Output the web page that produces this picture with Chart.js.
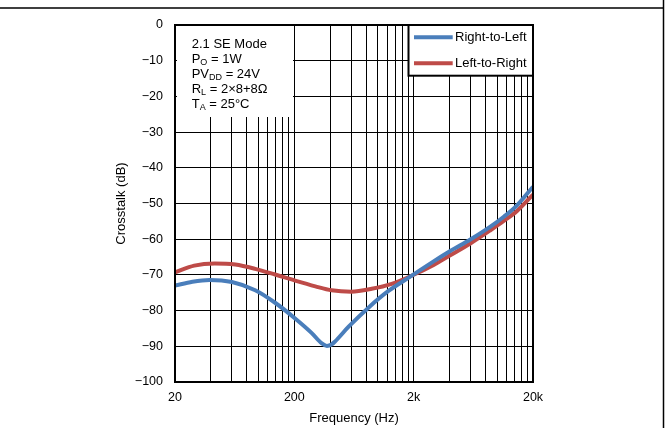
<!DOCTYPE html>
<html><head><meta charset="utf-8">
<script src="https://cdn.jsdelivr.net/npm/chart.js@4.4.1/dist/chart.umd.min.js"></script>
<style>html,body{margin:0;padding:0;background:#fff}canvas{display:block}</style>
</head><body>
<canvas id="c" width="669" height="428"></canvas>
<script>
// ---- data ----
const seriesNames = ['Right-to-Left', 'Left-to-Right'];
const freqRL = [20, 28, 39, 60, 94, 138, 203, 280, 340, 375, 410, 440, 570, 840, 1230, 1870, 2940, 4050, 5970, 8790, 11380, 14700, 20000];
const dbRL   = [-73.0, -71.9, -71.4, -72.0, -74.3, -77.8, -82.2, -86.3, -89.2, -89.9, -89.5, -88.6, -84.5, -79.1, -74.5, -70.5, -66.2, -63.3, -60.1, -56.5, -53.7, -50.5, -45.3];
const freqLR = [20, 29, 43, 64, 94, 138, 203, 300, 410, 600, 890, 1310, 1900, 2940, 4050, 5970, 8790, 11380, 14700, 20000];
const dbLR   = [-69.3, -67.4, -66.8, -67.1, -68.3, -69.9, -71.6, -73.2, -74.3, -74.7, -73.9, -72.5, -70.3, -67.2, -64.5, -61.2, -57.5, -54.9, -52.1, -47.5];
const xGridValues = [20, 40, 60, 80, 100, 120, 140, 160, 180, 200, 400, 600, 800, 1000, 1200, 1400, 1600, 1800, 2000, 4000, 6000, 8000, 10000, 12000, 14000, 16000, 18000, 20000];
const xLabelValues = [20, 200, 2000, 20000];
const xLabelText = ['20', '200', '2k', '20k'];
const yTickValues = [-100, -90, -80, -70, -60, -50, -40, -30, -20, -10, 0];
const yTickText = ['\u2212100', '\u221290', '\u221280', '\u221270', '\u221260', '\u221250', '\u221240', '\u221230', '\u221220', '\u221210', '0'];
const xTitle = 'Frequency (Hz)';
const yTitle = 'Crosstalk (dB)';
const annotationLines = [
  [['2.1 SE Mode', 0]],
  [['P', 0], ['O', 1], [' = 1W', 0]],
  [['PV', 0], ['DD', 1], [' = 24V', 0]],
  [['R', 0], ['L', 1], [' = 2\u00d78+8\u03a9', 0]],
  [['T', 0], ['A', 1], [' = 25\u00b0C', 0]]
];

// ---- style ----
const FONT = "'Liberation Sans', Arial, Helvetica, sans-serif";
const colors = ['#4a7ebb', '#be4b48'];

const decorPlugin = {
  id: 'decor',
  afterDraw(chart) {
    const ctx = chart.ctx;
    const a = chart.chartArea;
    ctx.save();
    // annotation box
    ctx.fillStyle = '#fff';
    ctx.fillRect(a.left + 2, a.top + 1, 116, 91);
    ctx.fillStyle = '#000';
    ctx.textBaseline = 'alphabetic';
    ctx.textAlign = 'left';
    annotationLines.forEach((line, i) => {
      let x = a.left + 16.7;
      const y = a.top + 22.5 + i * 15;
      line.forEach(([t, sub]) => {
        ctx.font = (sub ? '9px ' : '13px ') + FONT;
        ctx.fillText(t, x, y + (sub ? 2.5 : 0));
        x += ctx.measureText(t).width;
      });
    });
    // legend box
    const lx = 408.5, ly = a.top, lw = a.right - 408.5, lh = 50.7;
    ctx.fillStyle = '#fff';
    ctx.fillRect(lx, ly, lw, lh);
    ctx.strokeStyle = '#000';
    ctx.lineWidth = 2;
    ctx.strokeRect(lx, ly, lw, lh);
    chart.data.datasets.forEach((ds, i) => {
      const yy = ly + 12.3 + i * 26;
      ctx.strokeStyle = ds.borderColor;
      ctx.lineWidth = 4;
      ctx.lineCap = 'butt';
      ctx.beginPath();
      ctx.moveTo(414, yy);
      ctx.lineTo(452.7, yy);
      ctx.stroke();
      ctx.fillStyle = '#000';
      ctx.font = '13px ' + FONT;
      ctx.textBaseline = 'middle';
      ctx.fillText(ds.label, 455, yy);
    });
    // plot frame
    ctx.strokeStyle = '#000';
    ctx.lineWidth = 2;
    ctx.strokeRect(a.left, a.top, a.right - a.left, a.bottom - a.top);
    // page rules
    ctx.lineWidth = 1.5;
    ctx.beginPath();
    ctx.moveTo(0, 8);
    ctx.lineTo(663.5, 8);
    ctx.moveTo(663.5, 0);
    ctx.lineTo(663.5, 428);
    ctx.stroke();
    ctx.restore();
  }
};

new Chart(document.getElementById('c'), {
  type: 'line',
  data: {
    datasets: [
      { label: seriesNames[0], data: freqRL.map((f, i) => ({ x: f, y: dbRL[i] })), borderColor: colors[0], backgroundColor: colors[0], borderWidth: 4, pointRadius: 0, cubicInterpolationMode: 'monotone', fill: false },
      { label: seriesNames[1], data: freqLR.map((f, i) => ({ x: f, y: dbLR[i] })), borderColor: colors[1], backgroundColor: colors[1], borderWidth: 4, pointRadius: 0, cubicInterpolationMode: 'monotone', fill: false }
    ]
  },
  options: {
    responsive: false,
    animation: false,
    devicePixelRatio: 1,
    layout: { padding: { left: 0, top: 25, right: 136, bottom: 0 } },
    plugins: { legend: { display: false }, tooltip: { enabled: false } },
    scales: {
      x: {
        type: 'logarithmic', min: 20, max: 20000, position: 'bottom',
        afterBuildTicks: s => { s.ticks = xGridValues.map(v => ({ value: v })); },
        afterFit: s => { s.height = 46; },
        ticks: {
          autoSkip: false, maxRotation: 0, minRotation: 0, padding: 8, color: '#000',
          font: { family: FONT, size: 12.5 },
          callback: v => { const i = xLabelValues.indexOf(v); return i >= 0 ? xLabelText[i] : ''; }
        },
        grid: { color: '#000', lineWidth: 1, drawTicks: false },
        border: { display: false },
        title: { display: true, text: xTitle, color: '#000', font: { family: FONT, size: 13 }, padding: { top: 0, bottom: 2 } }
      },
      y: {
        type: 'linear', min: -100, max: 0,
        afterBuildTicks: s => { s.ticks = yTickValues.map(v => ({ value: v })); },
        afterFit: s => { s.width = 175; },
        ticks: {
          padding: 12, color: '#000', font: { family: FONT, size: 12.5 },
          callback: v => yTickText[yTickValues.indexOf(v)]
        },
        grid: { color: '#000', lineWidth: 1, drawTicks: false },
        border: { display: false },
        title: { display: true, text: yTitle, color: '#000', font: { family: FONT, size: 13 }, padding: { top: 114, bottom: 0 } }
      }
    }
  },
  plugins: [decorPlugin]
});
</script>
</body></html>
